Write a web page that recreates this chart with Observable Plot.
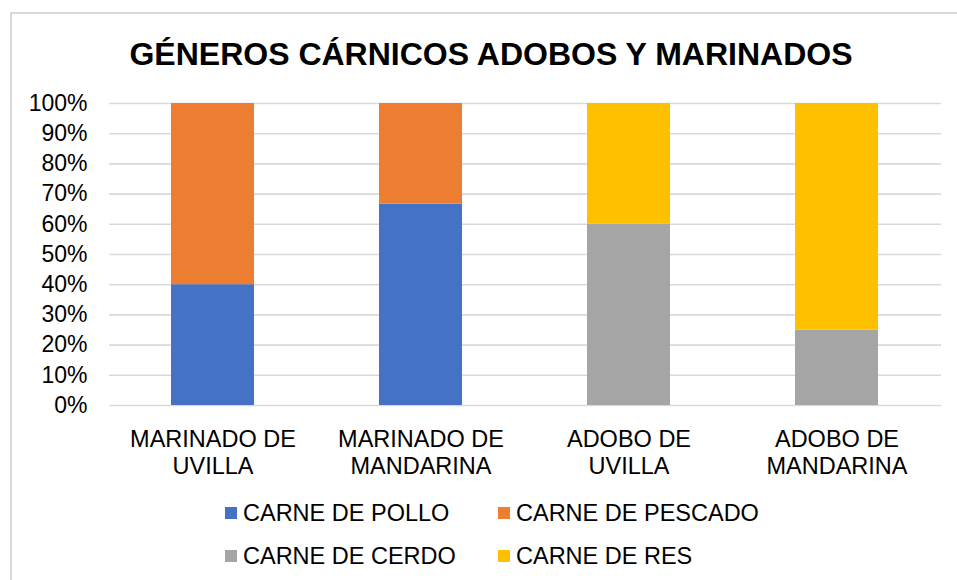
<!DOCTYPE html>
<html>
<head>
<meta charset="utf-8">
<script src="https://cdn.jsdelivr.net/npm/d3@7"></script>
<script src="https://cdn.jsdelivr.net/npm/@observablehq/plot@0.6"></script>
<style>
  html, body { margin: 0; padding: 0; background: #fff; overflow: hidden; width: 957px; height: 580px; }
  body { position: relative; font-family: "Liberation Sans", Arial, sans-serif; color: #000; }
  #frame { position: absolute; left: 10px; top: 12px; width: 1000px; height: 620px; border-left: 2px solid #d9d9d9; border-top: 2px solid #d9d9d9; }
  #title { position: absolute; left: 0; width: 982px; top: 38px; text-align: center; font-size: 32px; line-height: 32px; font-weight: bold; white-space: nowrap; }
  #chart { position: absolute; left: 0; top: 80px; }
  .lrow { position: absolute; height: 24px; display: flex; align-items: center; font-size: 23.5px; line-height: 24px; white-space: nowrap; }
  .sw { width: 12px; height: 12px; margin-right: 6px; }
</style>
</head>
<body>
<div id="frame"></div>
<div id="title">GÉNEROS CÁRNICOS ADOBOS Y MARINADOS</div>
<div id="chart"></div>
<div id="legend"></div>
<script>
const categories = ["MARINADO DE UVILLA", "MARINADO DE MANDARINA", "ADOBO DE UVILLA", "ADOBO DE MANDARINA"];
const categoryLabels = ["MARINADO DE\nUVILLA", "MARINADO DE\nMANDARINA", "ADOBO DE\nUVILLA", "ADOBO DE\nMANDARINA"];
const series = ["CARNE DE POLLO", "CARNE DE PESCADO", "CARNE DE CERDO", "CARNE DE RES"];
const colors = ["#4472C4", "#ED7D31", "#A5A5A5", "#FFC000"];
const pollo   = [0.40, 0.667, 0, 0];
const pescado = [0.60, 0.333, 0, 0];
const cerdo   = [0, 0, 0.60, 0.25];
const res     = [0, 0, 0.40, 0.75];
const yTicks  = [0, 0.1, 0.2, 0.3, 0.4, 0.5, 0.6, 0.7, 0.8, 0.9, 1.0];

const seriesValues = [pollo, pescado, cerdo, res];
const rows = [];
series.forEach((s, si) => {
  categories.forEach((c, ci) => {
    rows.push({cat: c, series: s, value: seriesValues[si][ci]});
  });
});

const chart = Plot.plot({
  width: 957,
  height: 400,
  marginTop: 23,
  marginBottom: 75,
  marginLeft: 109,
  marginRight: 16,
  style: {fontFamily: "'Liberation Sans', Arial, sans-serif", color: "#000", background: "transparent", overflow: "visible"},
  x: {domain: categories, paddingInner: 0.6, paddingOuter: 0.3, label: null},
  y: {domain: [0, 1], label: null},
  color: {domain: series, range: colors},
  marks: [
    Plot.ruleY(yTicks, {stroke: "#d9d9d9", strokeWidth: 1.6}),
    Plot.barY(rows, {x: "cat", y: "value", fill: "series"}),
    Plot.axisY({ticks: yTicks, tickFormat: d3.format(".0%"), tickSize: 0, tickPadding: 22, fontSize: 23, label: null}),
    Plot.axisX({tickSize: 0, tickPadding: 22, fontSize: 23.5, lineHeight: 1.15,
      tickFormat: d => categoryLabels[categories.indexOf(d)], label: null})
  ]
});
document.getElementById("chart").appendChild(chart);

// Legend
const legend = document.getElementById("legend");
const pos = [[225, 501], [498, 501], [225, 544], [498, 544]];
series.forEach((s, i) => {
  const row = document.createElement("div");
  row.className = "lrow";
  row.style.left = pos[i][0] + "px";
  row.style.top = pos[i][1] + "px";
  const sw = document.createElement("div");
  sw.className = "sw";
  sw.style.background = colors[i];
  const t = document.createElement("span");
  t.textContent = s;
  row.appendChild(sw);
  row.appendChild(t);
  legend.appendChild(row);
});
</script>
</body>
</html>
